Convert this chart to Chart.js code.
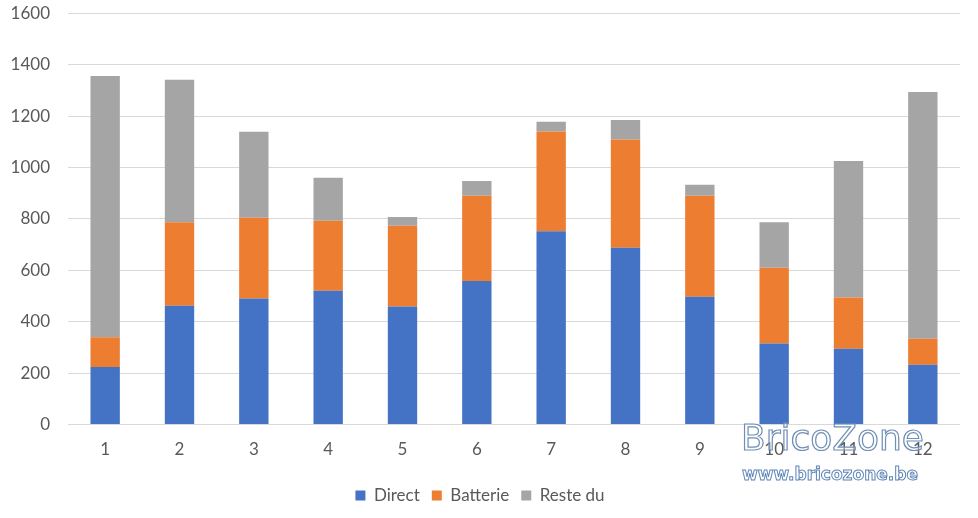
<!DOCTYPE html>
<html>
<head>
<meta charset="utf-8">
<script src="https://cdn.jsdelivr.net/npm/chart.js@4/dist/chart.umd.min.js"></script>
<style>
  html, body { margin: 0; padding: 0; background: #ffffff; overflow: hidden; }
  #wrap { position: relative; width: 978px; height: 518px; overflow: hidden; }
  canvas { display: block; position: absolute; left: 0; top: -15px; }
  .wm1 { position: absolute; left: 741px; top: 420px; font-family: "DejaVu Sans", sans-serif; font-size: 36px; color: rgba(255,255,255,0.4); -webkit-text-stroke: 1.2px #6f8fb5; line-height: 1; }
  .wm2 { position: absolute; left: 742px; top: 466px; font-family: "DejaVu Sans", sans-serif; font-weight: bold; font-size: 17px; color: #ffffff; -webkit-text-stroke: 1px #5f86b8; line-height: 1; }
</style>
</head>
<body>
<div id="wrap">
  <canvas id="c" width="978" height="533"></canvas>
  <div class="wm1">BricoZone</div>
  <div class="wm2">www.bricozone.be</div>
</div>
<script>
const categories = ["1","2","3","4","5","6","7","8","9","10","11","12"];
const direct   = [224, 462, 490, 521, 459, 558, 752, 688, 497, 315, 295, 233];
const batterie = [116, 325, 314, 272, 314, 332, 388, 421, 393, 295, 199, 101];
const resteDu  = [1016, 554, 335, 167, 34, 57, 38, 76, 43, 177, 531, 960];
const yTicks = [0, 200, 400, 600, 800, 1000, 1200, 1400, 1600];

const FONT = "Lato, 'Open Sans', sans-serif";
const TXT = "#595959";

new Chart(document.getElementById("c"), {
  type: "bar",
  data: {
    labels: categories,
    datasets: [
      { label: "Direct", data: direct, backgroundColor: "#4472C4" },
      { label: "Batterie", data: batterie, backgroundColor: "#ED7D31" },
      { label: "Reste du", data: resteDu, backgroundColor: "#A5A5A5" }
    ]
  },
  options: {
    responsive: false,
    animation: false,
    events: [],
    layout: { padding: { top: 0, right: 18, left: 0, bottom: 4 } },
    datasets: { bar: { categoryPercentage: 1.0, barPercentage: 0.395 } },
    plugins: {
      tooltip: { enabled: false },
      legend: {
        position: "bottom",
        labels: {
          boxWidth: 10, boxHeight: 10, padding: 12,
          color: TXT,
          font: { family: FONT, size: 17 }
        }
      }
    },
    scales: {
      x: {
        stacked: true,
        grid: { display: false, drawTicks: false },
        border: { display: false },
        ticks: { color: TXT, font: { family: FONT, size: 17 }, padding: 15 }
      },
      y: {
        stacked: true,
        min: 0, max: 1600,
        afterBuildTicks: (s) => { s.ticks = yTicks.map(v => ({ value: v })); },
        afterFit: (s) => { s.width = 68; },
        grid: { color: "#D9D9D9", lineWidth: 1, drawTicks: false },
        border: { display: false },
        ticks: { color: TXT, font: { family: FONT, size: 17 }, padding: 18, callback: (v) => String(v) }
      }
    }
  }
});
</script>
</body>
</html>
